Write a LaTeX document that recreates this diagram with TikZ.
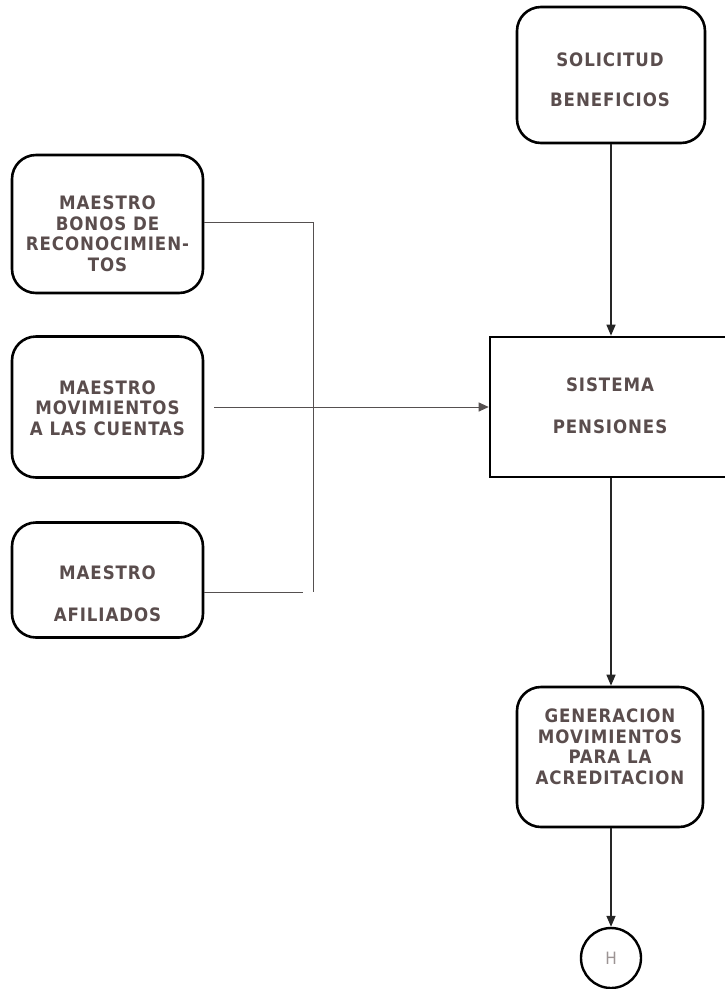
\documentclass[tikz,border=0pt]{standalone}
\usepackage{fontspec}
\newfontfamily\dfont[LetterSpace=5]{DejaVu Sans Condensed}
\usetikzlibrary{arrows.meta}
\definecolor{txt}{HTML}{5A4D4D}
\definecolor{conn}{HTML}{555050}
\tikzset{
  rbox/.style={draw=black, line width=2.6pt, rounded corners=24pt, minimum width=191pt, minimum height=138pt, inner sep=0pt},
  sbox/.style={draw=black, line width=2.6pt, minimum width=240pt, minimum height=140pt, inner sep=0pt},
  tx/.style={text=txt, font=\dfont\bfseries\fontsize{18.5}{20.5}\selectfont, align=center, inner sep=0pt},
  feed/.style={draw=conn, line width=1pt},
  flow/.style={draw=black!85, line width=1.4pt, -{Triangle[length=11pt,width=9pt]}},
}
\begin{document}
\begin{tikzpicture}[x=1pt,y=-1pt]
\useasboundingbox (0,0) rectangle (724,989);
% boxes
\node[rbox] (b1) at (107.5,224) {};
\node[rbox, minimum height=141pt] (b2) at (107.5,407) {};
\node[rbox, minimum height=115pt] (b3) at (107.5,580) {};
\node[rbox, minimum width=188pt, minimum height=136pt] (sol) at (611,75) {};
\node[sbox] (sis) at (610,407) {};
\node[rbox, minimum width=186pt, minimum height=140pt] (gen) at (610,757) {};
\node[draw=black, line width=2.4pt, circle, minimum size=60pt, inner sep=0pt] (h) at (611,958) {};
% texts
\node[tx] (t1) at (107.5,234) {MAESTRO\\BONOS DE\\RECONOCIMIEN-\\TOS};
\node[tx] (t2) at (107.5,408) {MAESTRO\\MOVIMIENTOS\\A LAS CUENTAS};
\node[tx] (t3) at (107.5,594) {MAESTRO\\[22pt]AFILIADOS};
\node[tx] (ts) at (610,80) {SOLICITUD\\[20pt]BENEFICIOS};
\node[tx] (tp) at (610,406) {SISTEMA\\[21pt]PENSIONES};
\node[tx] (tg) at (610,747) {GENERACION\\MOVIMIENTOS\\PARA LA\\ACREDITACION};
\node[tx, text=txt!60, font=\dfont\fontsize{17}{19}\selectfont] (th) at (611,958) {H};
% bus
\coordinate (bt) at (313,222);
\coordinate (bb) at (313,592);
\coordinate (be) at (303,592);
\draw[feed] (b1.east |- bt) -- (bt);
\draw[feed] (bt) -- (bb);
\draw[feed] (b3.east |- be) -- (be);
\draw[feed, -{Triangle[length=10pt,width=9pt]}, shorten <=10pt] (b2.east |- sis.west) -- (sis.west);
% flow
\draw[flow] (sol.south -| 611,0) -- (sis.north -| 611,0);
\draw[flow] (sis.south -| 611,0) -- (gen.north -| 611,0);
\draw[flow] (gen.south -| 611,0) -- (h.north);
\end{tikzpicture}
\end{document}
